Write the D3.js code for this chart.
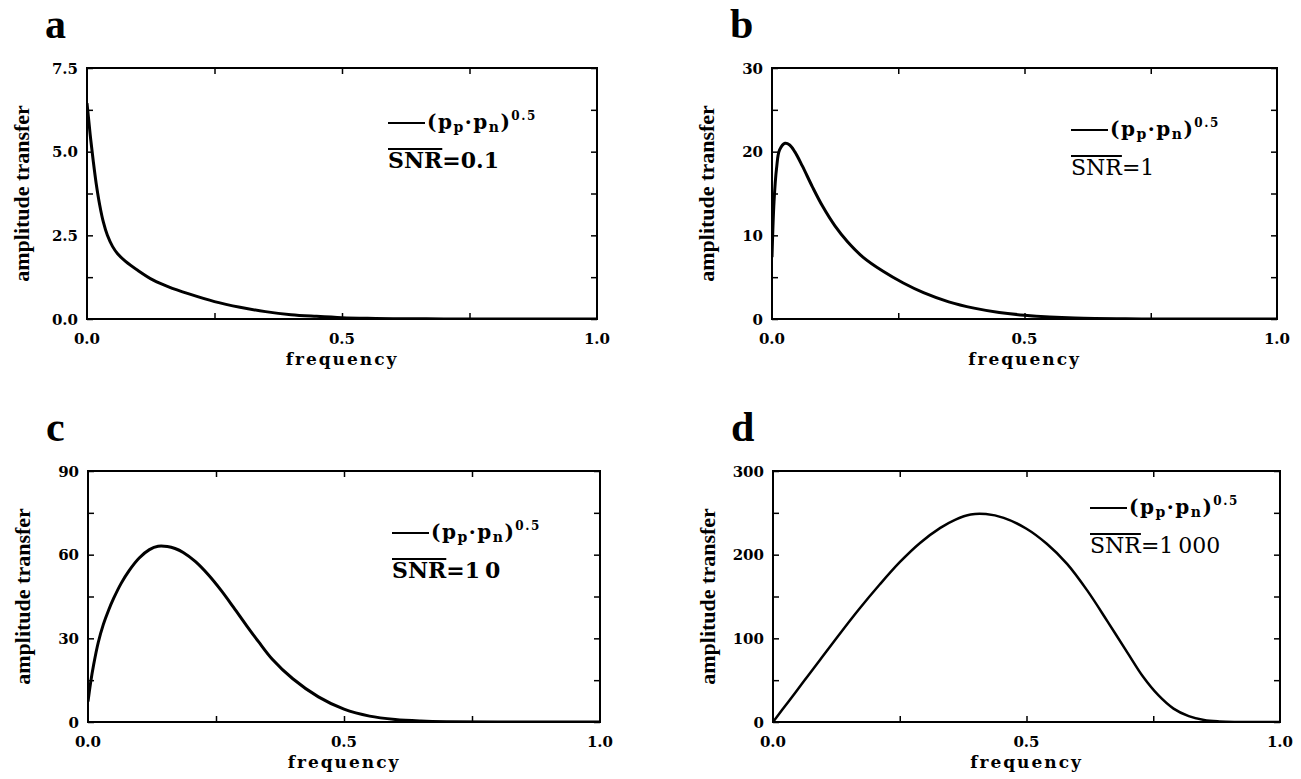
<!DOCTYPE html>
<html>
<head>
<meta charset="utf-8">
<script src="https://cdn.jsdelivr.net/npm/d3@7"></script>
<style>
  body { margin: 0; background: #fff; }
</style>
</head>
<body>
<div id="chart"></div>
<script>
// Data
var freqA = [0, 0.003, 0.007, 0.012, 0.018, 0.025, 0.032, 0.04, 0.05, 0.06, 0.075, 0.1, 0.13, 0.16, 0.2, 0.25, 0.3, 0.35, 0.4, 0.45, 0.5, 0.55, 0.6, 0.7, 0.8, 1.0];
var ampA  = [6.45, 6.0, 5.4, 4.75, 4.05, 3.4, 2.9, 2.5, 2.17, 1.95, 1.73, 1.45, 1.16, 0.96, 0.75, 0.52, 0.35, 0.22, 0.13, 0.08, 0.04, 0.02, 0.01, 0.003, 0, 0];

var freqB = [0, 0.004, 0.009, 0.015, 0.026, 0.035, 0.045, 0.06, 0.08, 0.1, 0.125, 0.15, 0.18, 0.22, 0.26, 0.3, 0.35, 0.4, 0.45, 0.5, 0.55, 0.6, 0.7, 0.8, 1.0];
var ampB  = [7.4, 14, 18, 20.2, 21, 20.8, 20, 18.3, 15.8, 13.5, 11.1, 9.2, 7.4, 5.7, 4.3, 3.15, 2.05, 1.3, 0.78, 0.45, 0.24, 0.12, 0.03, 0, 0];

var freqC = [0, 0.005, 0.011, 0.02, 0.03, 0.04, 0.05, 0.065, 0.08, 0.1, 0.12, 0.137, 0.155, 0.17, 0.186, 0.21, 0.235, 0.26, 0.284, 0.31, 0.333, 0.36, 0.4, 0.45, 0.5, 0.55, 0.6, 0.65, 0.7, 0.8, 1.0];
var ampC  = [7.3, 14, 20.5, 28.5, 35, 40, 44.3, 49.8, 54.2, 58.8, 61.8, 63, 62.9, 62.2, 60.8, 57.5, 52.8, 47.2, 41.2, 34.5, 28.8, 22.5, 15.5, 9, 4.6, 2.1, 0.9, 0.35, 0.1, 0, 0];

var freqD = [0, 0.03, 0.06, 0.09, 0.13, 0.17, 0.21, 0.25, 0.29, 0.33, 0.36, 0.39, 0.42, 0.455, 0.5, 0.54, 0.58, 0.62, 0.66, 0.7, 0.73, 0.76, 0.79, 0.82, 0.85, 0.88, 0.91, 1.0];
var ampD  = [0, 24, 48, 72, 104, 135, 164, 191, 214, 232, 242, 248, 248.5, 244, 231, 213, 189, 157, 120, 82, 54, 32, 16, 7, 2.5, 0.7, 0, 0];

var panelLetters = ["a", "b", "c", "d"];
var snrLabels = ["0.1", "1", "10", "1000"];
var yMax = [7.5, 30, 90, 300];
var yTicks = [[0, 2.5, 5, 7.5], [0, 10, 20, 30], [0, 30, 60, 90], [0, 100, 200, 300]];
var yFormats = [".1f", "d", "d", "d"];
var xTicks = [0, 0.5, 1.0];

var seriesF = [freqA, freqB, freqC, freqD];
var seriesA = [ampA, ampB, ampC, ampD];

// Layout of each plot box (pixels) and legend placement
var boxes = [
  {left: 87, right: 597, top: 68, bottom: 319, legX: 301, legY: 55, snrBold: true, lw: 3},
  {left: 772, right: 1277, top: 68, bottom: 319, legX: 299, legY: 62, snrBold: false, lw: 3},
  {left: 88, right: 600, top: 471, bottom: 722, legX: 304, legY: 62, snrBold: true, lw: 3},
  {left: 773, right: 1280, top: 471, bottom: 722, legX: 317, legY: 37, snrBold: false, lw: 2.5}
];

var svg = d3.select("#chart")
  .append("svg")
  .attr("width", 1301)
  .attr("height", 779)
  .style("background", "#fff");

var tickFont = "'DejaVu Serif', serif";
var titleFont = "'Liberation Serif', 'Times New Roman', serif";

boxes.forEach(function(b, i) {
  var g = svg.append("g");

  var x = d3.scaleLinear().domain([0, 1]).range([b.left, b.right]);
  var y = d3.scaleLinear().domain([0, yMax[i]]).range([b.bottom, b.top]);

  var step = yTicks[i][1] - yTicks[i][0];
  var yMinor = d3.range(0, yMax[i] + step / 4, step / 2);
  var xMinor = [0.25, 0.5, 0.75];

  // clip so the curve stays inside the frame
  svg.append("clipPath").attr("id", "clip" + i)
    .append("rect")
    .attr("x", b.left).attr("y", b.top - 2)
    .attr("width", b.right - b.left).attr("height", b.bottom - b.top + 1);

  // inward ticks on all four sides
  g.append("g").attr("transform", `translate(${b.left},0)`)
    .call(d3.axisLeft(y).tickValues(yMinor).tickSize(-6).tickFormat(""));
  g.append("g").attr("transform", `translate(${b.right},0)`)
    .call(d3.axisRight(y).tickValues(yMinor).tickSize(-6).tickFormat(""));
  g.append("g").attr("transform", `translate(0,${b.bottom})`)
    .call(d3.axisBottom(x).tickValues(xMinor).tickSize(-6).tickFormat(""));
  g.append("g").attr("transform", `translate(0,${b.top})`)
    .call(d3.axisTop(x).tickValues(xMinor).tickSize(-6).tickFormat(""));
  g.selectAll(".domain").remove();
  g.selectAll(".tick line").attr("stroke", "#000").attr("stroke-width", 1.5);

  // box
  g.append("rect")
    .attr("x", b.left).attr("y", b.top)
    .attr("width", b.right - b.left).attr("height", b.bottom - b.top)
    .attr("fill", "none").attr("stroke", "#000").attr("stroke-width", 2);

  // y tick labels
  var fmt = d3.format(yFormats[i]);
  g.selectAll(".ylab").data(yTicks[i]).enter()
    .append("text")
    .attr("x", b.left - 9)
    .attr("y", d => y(d) + 5.5)
    .attr("text-anchor", "end")
    .style("font-family", tickFont).style("font-weight", "bold")
    .style("font-size", "15px")
    .text(d => fmt(d));

  // x tick labels
  g.selectAll(".xlab").data(xTicks).enter()
    .append("text")
    .attr("x", d => x(d))
    .attr("y", b.bottom + 25)
    .attr("text-anchor", "middle")
    .style("font-family", tickFont).style("font-weight", "bold")
    .style("font-size", "15px")
    .text(d => d3.format(".1f")(d));

  // axis titles
  g.append("text")
    .attr("transform", `translate(${b.left - 58}, ${(b.top + b.bottom) / 2}) rotate(-90)`)
    .attr("text-anchor", "middle")
    .style("font-family", titleFont).style("font-weight", "bold")
    .style("font-size", "22px")
    .text("amplitude transfer");

  g.append("text")
    .attr("x", (b.left + b.right) / 2)
    .attr("y", b.bottom + 46)
    .attr("text-anchor", "middle")
    .style("font-family", tickFont).style("font-weight", "bold")
    .style("font-size", "17px").style("letter-spacing", "2px")
    .text("frequency");

  // panel letter
  g.append("text")
    .attr("x", b.left - 42)
    .attr("y", b.top - 30)
    .style("font-family", titleFont).style("font-weight", "bold")
    .style("font-size", "42px")
    .text(panelLetters[i]);

  // curve
  var pts = seriesF[i].map((f, k) => [f, seriesA[i][k]]);
  var line = d3.line()
    .x(d => x(d[0]))
    .y(d => y(d[1]))
    .curve(d3.curveCatmullRom.alpha(0.5));
  g.append("path")
    .datum(pts)
    .attr("d", line)
    .attr("clip-path", "url(#clip" + i + ")")
    .attr("fill", "none")
    .attr("stroke", "#000")
    .attr("stroke-width", b.lw)
    .attr("stroke-linejoin", "round");

  // legend
  var lx = b.left + b.legX, ly = b.top + b.legY;
  g.append("line")
    .attr("x1", lx).attr("x2", lx + 37)
    .attr("y1", ly).attr("y2", ly)
    .attr("stroke", "#000").attr("stroke-width", 2);

  var leg = g.append("text")
    .attr("x", lx + 39).attr("y", ly + 6)
    .style("font-family", tickFont).style("font-weight", "bold")
    .style("font-size", "20px").style("letter-spacing", "1.5px");
  leg.append("tspan").text("(p");
  leg.append("tspan").attr("dy", 3).style("font-size", "14px").text("p");
  leg.append("tspan").attr("dy", -3).text("\u00b7p");
  leg.append("tspan").attr("dy", 3).style("font-size", "14px").text("n");
  leg.append("tspan").attr("dy", -3).text(")");
  leg.append("tspan").attr("dy", -9).style("font-size", "12px").text("0.5");

  var snr = g.append("text")
    .attr("x", lx).attr("y", ly + 45)
    .style("font-family", tickFont)
    .style("font-weight", b.snrBold ? "bold" : "normal")
    .style("font-size", "22px");
  snr.append("tspan").text("SNR");
  snr.append("tspan").text("=" + snrLabels[i].charAt(0));
  if (snrLabels[i].length > 1) {
    snr.append("tspan")
      .attr("dx", snrLabels[i].indexOf(".") < 0 ? 5 : 0)
      .text(snrLabels[i].slice(1));
  }
  var snrW = snr.node().getSubStringLength(0, 3);
  g.append("line")
    .attr("x1", lx).attr("x2", lx + snrW)
    .attr("y1", ly + 26).attr("y2", ly + 26)
    .attr("stroke", "#000").attr("stroke-width", 2);
});
</script>
</body>
</html>
